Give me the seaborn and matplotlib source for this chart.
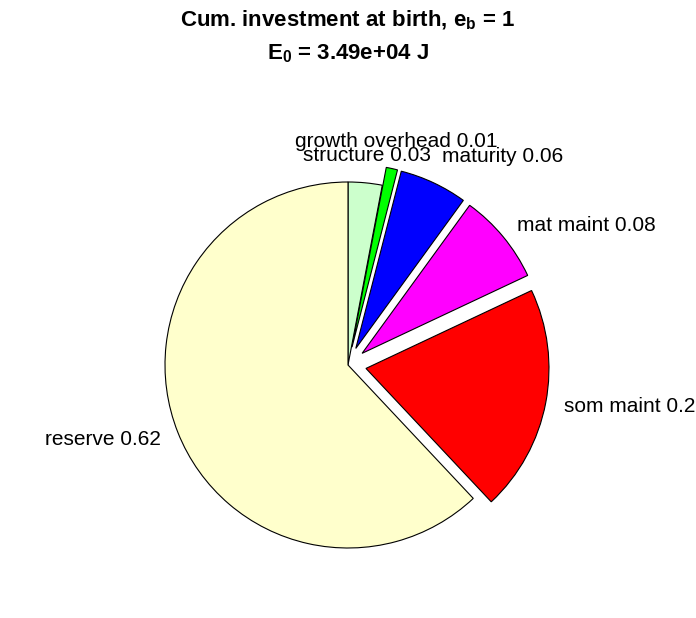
import numpy as np
import matplotlib
matplotlib.use('Agg')
import matplotlib.pyplot as plt
import seaborn as sns

# energy fractions at birth, clockwise from 12 o'clock
parts = ['structure', 'growth overhead', 'maturity', 'mat maint', 'som maint', 'reserve']
fractions = [0.03, 0.01, 0.06, 0.08, 0.20, 0.62]
exploded = [0, 1, 1, 1, 1, 0]
colors = ['#ccffcc', '#00ff00', '#0000ff', '#ff00ff', '#ff0000', '#ffffcc']
e_b = 1
E_0 = 3.49e4

sns.set_theme(style='white')
plt.rcParams['font.family'] = ['Liberation Sans', 'DejaVu Sans']
plt.rcParams['text.color'] = 'black'
plt.rcParams['mathtext.fontset'] = 'custom'
plt.rcParams['mathtext.rm'] = 'Liberation Sans'
plt.rcParams['mathtext.it'] = 'Liberation Sans'
plt.rcParams['mathtext.bf'] = 'Liberation Sans:bold'

W, H = 696, 618
fig = plt.figure(figsize=(W / 100, H / 100), dpi=100)
fig.patch.set_facecolor('white')

# pie centre (348, 365) px, radius 183 px
r_px = 183
cx, cy = 348, 365
ax = fig.add_axes([(cx - r_px) / W, (H - cy - r_px) / H, 2 * r_px / W, 2 * r_px / H])

labels = [f'{p} {v:.2f}' for p, v in zip(parts, fractions)]
wedges, texts = ax.pie(fractions, labels=labels, colors=colors,
                       explode=[0.1 * e for e in exploded],
                       startangle=90, counterclock=False, labeldistance=1.1,
                       wedgeprops=dict(edgecolor='black', linewidth=0.8),
                       textprops=dict(fontsize=15, color='black'))
ax.set_xlim(-1, 1)
ax.set_ylim(-1, 1)

for t in texts:
    x, y = t.get_position()
    if abs(x) < 0.3:
        t.set_ha('center')
    if y > 0.9:
        t.set_va('bottom')
    elif y > 0.5:
        t.set_va('center')

fig.text(0.5, 1 - 20 / H, rf'Cum. investment at birth, $\mathbf{{e_b}}$ = {e_b}',
         ha='center', va='center', fontsize=16, fontweight='bold', color='black')
fig.text(0.5, 1 - 54 / H, rf'$\mathbf{{E_0}}$ = {E_0:.2e} J',
         ha='center', va='center', fontsize=16, fontweight='bold', color='black')

plt.savefig('out.png', dpi=100, facecolor='white')
